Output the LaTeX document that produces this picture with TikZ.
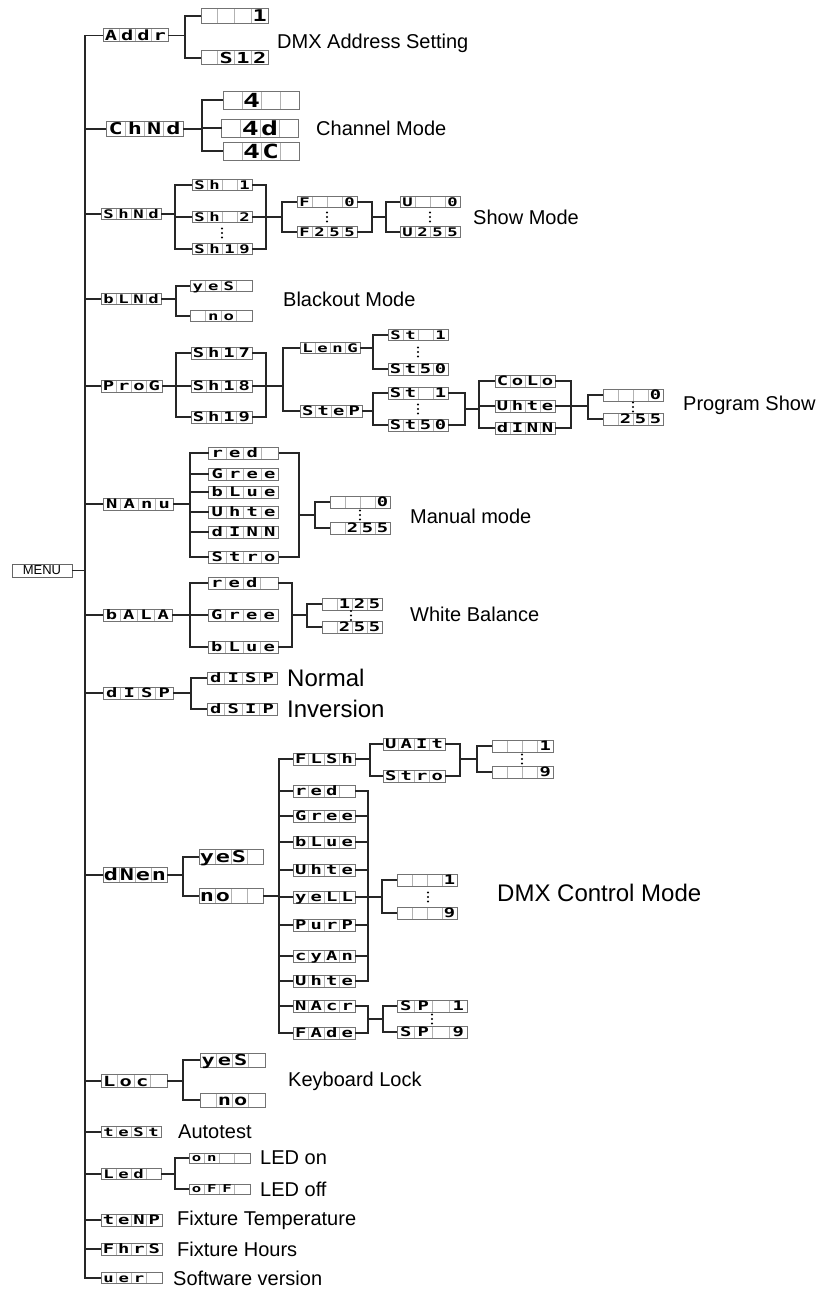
\documentclass[tikz,border=0pt]{standalone}
\usepackage{fontspec}
\setmainfont{Liberation Sans}
\newfontfamily\dispfnt{DejaVu Sans Mono}[FakeStretch=1.45]
\usetikzlibrary{calc}
\tikzset{
 conn/.style={draw=black!85, line width=1.1pt},
 dispbox/.style={draw=black!55, line width=1pt, inner sep=0pt, outer sep=0pt, rectangle},
 celldiv/.style={draw=black!30, line width=0.7pt},
 dispchar/.style={inner sep=0pt, anchor=base, text=black},
 lbl/.style={anchor=west, inner sep=0pt, font=\fontsize{20}{24}\selectfont},
 biglbl/.style={anchor=west, inner sep=0pt, font=\fontsize{24}{28}\selectfont},
}
% name, cx, cy, w, h, c1..c4
\newcommand\mkdisp[9]{%
  \node[dispbox, minimum width=#4, minimum height=#5] (#1) at (#2,#3) {};
  \foreach \k in {1,2,3} {\draw[celldiv] ({#2-#4/2+#4*\k/4},{#3-#5/2+0.5}) -- ({#2-#4/2+#4*\k/4},{#3+#5/2-0.5});}
  \pgfmathsetmacro\dfs{1.08*#5}%
  \node[dispchar, font={\dispfnt\bfseries\fontsize{\dfs}{\dfs}\selectfont}] (#1-1) at ({#2-#4*3/8},{#3+0.39*#5}) {#6};
  \node[dispchar, font={\dispfnt\bfseries\fontsize{\dfs}{\dfs}\selectfont}] (#1-2) at ({#2-#4/8},{#3+0.39*#5}) {#7};
  \node[dispchar, font={\dispfnt\bfseries\fontsize{\dfs}{\dfs}\selectfont}] (#1-3) at ({#2+#4/8},{#3+0.39*#5}) {#8};
  \node[dispchar, font={\dispfnt\bfseries\fontsize{\dfs}{\dfs}\selectfont}] (#1-4) at ({#2+#4*3/8},{#3+0.39*#5}) {#9};
}
\newcommand\lfork[3]{\draw[conn] (#2.west) -| (#1 |- #3.west) -- (#3.west);}
\newcommand\lstub[2]{\draw[conn] (#2.west) -- (#2.west -| #1);}
\newcommand\rfork[3]{\draw[conn] (#2.east) -| (#1 |- #3.east) -- (#3.east);}
\newcommand\rstub[2]{\draw[conn] (#2.east) -- (#2.east -| #1);}
\newcommand\pstub[2]{\draw[conn] (#1.east) -- (#1.east -| #2);}
\newcommand\tridots[2]{\fill[black] (#1,{#2-4.5}) circle (1.2); \fill[black] (#1,#2) circle (1.2); \fill[black] (#1,{#2+4.5}) circle (1.2);}
\begin{document}
\begin{tikzpicture}[x=1pt,y=-1pt]
\useasboundingbox (0,0) rectangle (825,1290);

% ---------- MENU and main trunk
\node[draw=black!60, line width=0.8pt, minimum width=60, minimum height=13, inner sep=0pt, font=\fontsize{13}{13}\selectfont] (MENU) at (42,570.5) {MENU};
\coordinate (mx) at (85,0);

\mkdisp{Addr}{135.5}{35.5}{65}{13}{A}{d}{d}{r}
\mkdisp{ChNd}{144.5}{129}{77}{15}{C}{h}{N}{d}
\mkdisp{ShNd}{131}{214}{60}{11}{S}{h}{N}{d}
\mkdisp{bLNd}{131}{299}{60}{11}{b}{L}{N}{d}
\mkdisp{ProG}{131.5}{386}{61}{12}{P}{r}{o}{G}
\mkdisp{NAnu}{138}{504}{70}{12}{N}{A}{n}{u}
\mkdisp{bALA}{137.5}{615}{69}{12}{b}{A}{L}{A}
\mkdisp{dISP}{138}{693}{70}{12}{d}{I}{S}{P}
\mkdisp{dNEn}{135}{875}{64}{15}{d}{N}{e}{n}
\mkdisp{Loc}{134}{1081}{66}{13}{L}{o}{c}{}
\mkdisp{tESt}{131}{1132}{60}{11}{t}{e}{S}{t}
\mkdisp{LEd}{131}{1174}{60}{11}{L}{e}{d}{}
\mkdisp{tEnP}{131.5}{1220}{61}{12}{t}{e}{N}{P}
\mkdisp{FhrS}{131.5}{1249}{61}{12}{F}{h}{r}{S}
\mkdisp{uEr}{131.5}{1278}{61}{11}{u}{e}{r}{}

\draw[conn] (Addr.west) -- (Addr.west -| mx) -- (uEr.west -| mx) -- (uEr.west);
\foreach \n in {ChNd,ShNd,bLNd,ProG,NAnu,bALA,dISP,dNEn,Loc,tESt,LEd,tEnP,FhrS} {\draw[conn] (\n.west) -- (\n.west -| mx);}
\draw[conn] (MENU.east) -- (MENU.east -| mx);

% ---------- Addr
\mkdisp{A1}{234.5}{16}{67}{15}{}{}{}{1}
\mkdisp{A512}{234.5}{58}{67}{14}{}{S}{1}{2}
\coordinate (bA) at (185,0);
\pstub{Addr}{bA}
\lfork{bA}{A1}{A512}
\node[lbl] (tA) at (277,43) {DMX Address Setting};

% ---------- ChNd
\mkdisp{C4}{261}{100}{76}{18}{}{4}{}{}
\mkdisp{C4d}{260}{128}{77}{18}{}{4}{d}{}
\mkdisp{C4C}{261}{151}{76}{18}{}{4}{C}{}
\coordinate (bC) at (202,0);
\pstub{ChNd}{bC}
\lfork{bC}{C4}{C4C}
\lstub{bC}{C4d}
\node[lbl] (tC) at (316,128) {Channel Mode};

% ---------- ShNd
\mkdisp{Sh1}{222}{185}{60}{11}{S}{h}{}{1}
\mkdisp{Sh2}{222}{217}{60}{11}{S}{h}{}{2}
\mkdisp{ShA}{222}{249}{60}{11}{S}{h}{1}{9}
\tridots{222}{233}
\coordinate (bS) at (175,0);
\pstub{ShNd}{bS}
\lfork{bS}{Sh1}{ShA}
\lstub{bS}{Sh2}
\coordinate (rS) at (266,0);
\coordinate (bF) at (282,0);
\rfork{rS}{Sh1}{ShA}
\rstub{bF}{Sh2}
\mkdisp{F0}{327}{202}{60}{11}{F}{}{}{0}
\mkdisp{F255}{327}{232}{60}{11}{F}{2}{5}{5}
\tridots{327}{217}
\lfork{bF}{F0}{F255}
\coordinate (rF) at (372,217);
\coordinate (bU) at (386,217);
\rfork{rF}{F0}{F255}
\draw[conn] (rF) -- (bU);
\mkdisp{U0}{430}{202}{60}{11}{U}{}{}{0}
\mkdisp{U255}{430}{232}{60}{11}{U}{2}{5}{5}
\tridots{430}{217}
\lfork{bU}{U0}{U255}
\node[lbl] (tS) at (473,217) {Show Mode};

% ---------- bLNd
\mkdisp{Y1}{221}{286}{62}{11}{y}{e}{S}{}
\mkdisp{N1}{221}{316}{62}{11}{}{n}{o}{}
\coordinate (bB) at (176,0);
\pstub{bLNd}{bB}
\lfork{bB}{Y1}{N1}
\node[lbl] (tB) at (283,299) {Blackout Mode};

% ---------- ProG
\mkdisp{P17}{221.5}{353}{61}{12}{S}{h}{1}{7}
\mkdisp{P18}{221.5}{386}{61}{12}{S}{h}{1}{8}
\mkdisp{P19}{221.5}{417}{61}{12}{S}{h}{1}{9}
\coordinate (bP) at (176,0);
\pstub{ProG}{bP}
\lfork{bP}{P17}{P19}
\lstub{bP}{P18}
\coordinate (rP) at (266,0);
\coordinate (bL) at (283,0);
\rfork{rP}{P17}{P19}
\rstub{bL}{P18}
\mkdisp{LEnG}{330}{348}{60}{11}{L}{e}{n}{G}
\mkdisp{STEP}{331}{411}{62}{12}{S}{t}{e}{P}
\lfork{bL}{LEnG}{STEP}
\coordinate (bSt) at (373,0);
\mkdisp{Sta}{418}{335}{60}{11}{S}{t}{}{1}
\mkdisp{Stb}{418}{369}{60}{12}{S}{t}{5}{0}
\tridots{418}{352}
\pstub{LEnG}{bSt}
\lfork{bSt}{Sta}{Stb}
\mkdisp{Stc}{418}{393}{60}{12}{S}{t}{}{1}
\mkdisp{Std}{418}{425}{60}{12}{S}{t}{5}{0}
\tridots{418}{409}
\pstub{STEP}{bSt}
\lfork{bSt}{Stc}{Std}
\coordinate (rSt) at (465,409);
\coordinate (bCo) at (479,409);
\rfork{rSt}{Stc}{Std}
\draw[conn] (rSt) -- (bCo);
\mkdisp{Colo}{525}{381}{60}{12}{C}{o}{L}{o}
\mkdisp{UhtP}{525}{406}{60}{12}{U}{h}{t}{e}
\mkdisp{dINP}{525}{428}{60}{12}{d}{I}{N}{N}
\lfork{bCo}{Colo}{dINP}
\lstub{bCo}{UhtP}
\coordinate (rCo) at (571,0);
\coordinate (bPv) at (588,0);
\rfork{rCo}{Colo}{dINP}
\rstub{bPv}{UhtP}
\mkdisp{PV0}{633}{395}{60}{12}{}{}{}{0}
\mkdisp{PV255}{633}{419}{60}{12}{}{2}{5}{5}
\tridots{633}{407}
\lfork{bPv}{PV0}{PV255}
\node[lbl] (tP) at (683,405) {Program Show};

% ---------- NAnu
\mkdisp{Mr}{243.5}{453}{70}{12}{r}{e}{d}{}
\mkdisp{Mg}{243.5}{474}{70}{12}{G}{r}{e}{e}
\mkdisp{Mb}{243.5}{492}{70}{12}{b}{L}{u}{e}
\mkdisp{Mw}{243.5}{512}{70}{12}{U}{h}{t}{e}
\mkdisp{Md}{243.5}{532}{70}{12}{d}{I}{N}{N}
\mkdisp{Ms}{243.5}{557}{70}{12}{S}{t}{r}{o}
\coordinate (bM) at (190,0);
\pstub{NAnu}{bM}
\lfork{bM}{Mr}{Ms}
\foreach \n in {Mg,Mb,Mw,Md} {\lstub{bM}{\n}}
\coordinate (rM) at (299,515);
\coordinate (bMv) at (315,515);
\rfork{rM}{Mr}{Ms}
\draw[conn] (rM) -- (bMv);
\mkdisp{M0}{360}{502}{60}{12}{}{}{}{0}
\mkdisp{M255}{360}{528}{60}{12}{}{2}{5}{5}
\tridots{360}{515}
\lfork{bMv}{M0}{M255}
\node[lbl] (tM) at (410,516) {Manual mode};

% ---------- bALA
\mkdisp{Br}{243}{583}{70}{12}{r}{e}{d}{}
\mkdisp{Bg}{243}{615}{70}{12}{G}{r}{e}{e}
\mkdisp{Bb}{243}{647}{70}{12}{b}{L}{u}{e}
\coordinate (bBa) at (190,0);
\pstub{bALA}{bBa}
\lfork{bBa}{Br}{Bb}
\lstub{bBa}{Bg}
\coordinate (rB) at (292,615);
\coordinate (bW) at (307,615);
\rfork{rB}{Br}{Bb}
\draw[conn] (rB) -- (bW);
\mkdisp{W125}{352}{604}{60}{12}{}{1}{2}{5}
\mkdisp{W255}{352}{627}{60}{12}{}{2}{5}{5}
\tridots{351}{615.5}
\lfork{bW}{W125}{W255}
\node[lbl] (tW) at (410,614) {White Balance};

% ---------- dISP
\mkdisp{Dn}{242}{678}{70}{12}{d}{I}{S}{P}
\mkdisp{Di}{242}{709}{70}{12}{d}{S}{I}{P}
\coordinate (bD) at (191,0);
\pstub{dISP}{bD}
\lfork{bD}{Dn}{Di}
\node[biglbl] (tDn) at (287,678) {Normal};
\node[biglbl] (tDi) at (287,709) {Inversion};

% ---------- dNEn
\mkdisp{Ey}{231}{857}{64}{15}{y}{e}{S}{}
\mkdisp{En}{231}{896}{64}{15}{n}{o}{}{}
\coordinate (bEn) at (183,0);
\pstub{dNEn}{bEn}
\lfork{bEn}{Ey}{En}
\coordinate (bE) at (279,0);
\pstub{En}{bE}
\mkdisp{FLSh}{324}{759}{62}{12}{F}{L}{S}{h}
\mkdisp{Er}{324}{791}{62}{12}{r}{e}{d}{}
\mkdisp{Eg}{324}{816}{62}{12}{G}{r}{e}{e}
\mkdisp{Eb}{324}{842}{62}{12}{b}{L}{u}{e}
\mkdisp{Ew}{324}{870}{62}{12}{U}{h}{t}{e}
\mkdisp{Eyl}{324}{897}{62}{12}{y}{e}{L}{L}
\mkdisp{Ep}{324}{925}{62}{12}{P}{u}{r}{P}
\mkdisp{Ec}{324}{956}{62}{12}{c}{y}{A}{n}
\mkdisp{Ew2}{324}{981}{62}{12}{U}{h}{t}{e}
\mkdisp{ENa}{324}{1006}{62}{12}{N}{A}{c}{r}
\mkdisp{EFa}{324}{1033}{62}{12}{F}{A}{d}{e}
\lfork{bE}{FLSh}{EFa}
\foreach \n in {Er,Eg,Eb,Ew,Eyl,Ep,Ec,Ew2,ENa} {\lstub{bE}{\n}}
% flash
\coordinate (bFl) at (370,0);
\pstub{FLSh}{bFl}
\mkdisp{UAIt}{414}{744}{62}{12}{U}{A}{I}{t}
\mkdisp{FSt}{414}{776}{62}{12}{S}{t}{r}{o}
\lfork{bFl}{UAIt}{FSt}
\coordinate (rFl) at (460,759);
\coordinate (bG) at (477,759);
\rfork{rFl}{UAIt}{FSt}
\draw[conn] (rFl) -- (bG);
\mkdisp{G1}{522.5}{746}{61}{12}{}{}{}{1}
\mkdisp{G9}{522.5}{772}{61}{12}{}{}{}{9}
\tridots{522}{759}
\lfork{bG}{G1}{G9}
% colours
\coordinate (rE) at (368,0);
\coordinate (bH) at (382,0);
\rfork{rE}{Er}{Ew2}
\foreach \n in {Eg,Eb,Ew,Ep,Ec} {\rstub{rE}{\n}}
\rstub{bH}{Eyl}
\mkdisp{H1}{427}{880}{60}{12}{}{}{}{1}
\mkdisp{H9}{427}{913}{60}{12}{}{}{}{9}
\tridots{428}{897}
\lfork{bH}{H1}{H9}
% macro / fade
\coordinate (rN) at (368,1019);
\coordinate (bSP) at (383,1019);
\rfork{rN}{ENa}{EFa}
\draw[conn] (rN) -- (bSP);
\mkdisp{SP1}{432}{1006}{70}{12}{S}{P}{}{1}
\mkdisp{SP9}{432}{1032}{70}{12}{S}{P}{}{9}
\tridots{432}{1019}
\lfork{bSP}{SP1}{SP9}
\node[biglbl] (tE) at (497,893) {DMX Control Mode};

% ---------- Loc
\mkdisp{Ly}{232.5}{1060}{65}{14}{y}{e}{S}{}
\mkdisp{Ln}{232.5}{1100}{65}{14}{}{n}{o}{}
\coordinate (bLo) at (183,0);
\pstub{Loc}{bLo}
\lfork{bLo}{Ly}{Ln}
\node[lbl] (tL) at (288,1081) {Keyboard Lock};

% ---------- remaining
\node[lbl] (tT) at (178,1132) {Autotest};
\mkdisp{On}{219.5}{1158}{61}{10}{o}{n}{}{}
\mkdisp{Off}{219.5}{1189}{61}{10}{o}{F}{F}{}
\coordinate (bLe) at (175,0);
\pstub{LEd}{bLe}
\lfork{bLe}{On}{Off}
\node[lbl] (tOn) at (260,1158) {LED on};
\node[lbl] (tOff) at (260,1189) {LED off};
\node[lbl] (tTe) at (177,1220) {Fixture Temperature};
\node[lbl] (tFh) at (177,1249) {Fixture Hours};
\node[lbl] (tVe) at (173,1278) {Software version};
\end{tikzpicture}
\end{document}
